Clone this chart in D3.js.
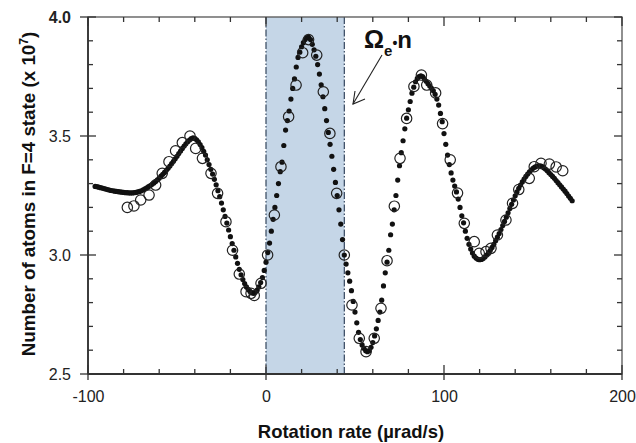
<!DOCTYPE html>
<html>
<head>
<meta charset="utf-8">
<script src="https://cdn.jsdelivr.net/npm/d3@7"></script>
<style>
  html, body { margin: 0; padding: 0; background: #fff; }
  svg { display: block; }
  text { font-family: Arial, "Liberation Sans", Helvetica, sans-serif; }
</style>
</head>
<body>
<svg id="chart" width="636" height="443"></svg>
<script>
// ---- Data ----
const xMajorTicks = [-100, 0, 100, 200];
const xTickLabels = ["-100", "0", "100", "200"];
const yMajorTicks = [2.5, 3.0, 3.5, 4.0];
const yTickLabels = ["2.5", "3.0", "3.5", "4.0"];
const bandRange = [0, 44];

// Theory curve (filled dots), x in µrad/s
const theoryX = d3.range(-96, 173, 1);
const theoryY = [
  3.288,3.287,3.285,3.283,3.281,3.279,3.277,3.275,3.273,3.271, // -96..-87
  3.270,3.268,3.267,3.266,3.265,3.264,3.263,3.262,3.262,3.261, // -86..-77
  3.261,3.261,3.262,3.263,3.265,3.267,3.270,3.274,3.278,3.282, // -76..-67
  3.287,3.292,3.297,3.303,3.309,3.316,3.323,3.331,3.339,3.347, // -66..-57
  3.356,3.365,3.374,3.384,3.394,3.404,3.415,3.426,3.437,3.448, // -56..-47
  3.458,3.467,3.476,3.483,3.489,3.492,3.490,3.484,3.475,3.464, // -46..-37
  3.451,3.436,3.420,3.400,3.380,3.360,3.340,3.318,3.295,3.270, // -36..-27
  3.245,3.218,3.190,3.162,3.134,3.105,3.077,3.048,3.020,2.992, // -26..-17
  2.965,2.940,2.917,2.897,2.880,2.866,2.855,2.847,2.841,2.839, // -16..-7
  2.843,2.852,2.866,2.884,2.905,2.935,2.970,3.010,3.050,3.100, // -6..3
  3.150,3.200,3.250,3.300,3.350,3.390,3.460,3.525,3.565,3.605, // 4..13
  3.655,3.700,3.740,3.790,3.830,3.852,3.875,3.892,3.905,3.913, // 14..23
  3.915,3.905,3.885,3.862,3.835,3.800,3.760,3.715,3.665,3.615, // 24..33
  3.565,3.515,3.465,3.415,3.360,3.305,3.250,3.190,3.130,3.065, // 34..43
  3.000,2.962,2.925,2.890,2.850,2.805,2.760,2.715,2.675,2.645, // 44..53
  2.622,2.608,2.598,2.594,2.598,2.612,2.632,2.660,2.690,2.725, // 54..63
  2.760,2.810,2.870,2.925,2.970,3.020,3.085,3.130,3.190,3.250, // 64..73
  3.315,3.375,3.430,3.480,3.530,3.575,3.610,3.645,3.680,3.705, // 74..83
  3.728,3.742,3.750,3.753,3.750,3.740,3.730,3.720,3.710,3.700, // 84..93
  3.690,3.675,3.655,3.630,3.595,3.560,3.510,3.465,3.420,3.380, // 94..103
  3.345,3.315,3.290,3.265,3.235,3.200,3.165,3.135,3.100,3.070, // 104..113
  3.045,3.025,3.008,2.995,2.987,2.982,2.980,2.981,2.985,2.992, // 114..123
  3.000,3.010,3.020,3.032,3.045,3.060,3.075,3.090,3.107,3.124, // 124..133
  3.141,3.159,3.177,3.195,3.213,3.231,3.249,3.265,3.280,3.294, // 134..143
  3.307,3.319,3.330,3.340,3.349,3.357,3.364,3.369,3.373,3.375, // 144..153
  3.375,3.372,3.367,3.361,3.354,3.346,3.338,3.330,3.322,3.313, // 154..163
  3.304,3.295,3.286,3.277,3.268,3.258,3.248,3.238,3.228        // 164..172
];

// Measured data (open circles)
const dataX = [-77.9,-74.2,-70.4,-65.7,-62.0,-58.3,-54.5,-50.8,-47.0,-42.7,
  -39.5,-35.7,-30.9,-27.2,-22.5,-18.8,-15.0,-11.2,-8.4,-6.6,
  -2.8,0.9,4.7,8.4,12.7,16.9,20.6,23.9,28.5,32.2,
  35.9,39.7,44.0,48.3,52.4,56.2,60.8,64.6,68.0,72.1,
  75.3,79.0,83.1,87.3,90.3,95.3,99.2,103.5,107.6,111.4,
  117.0,119.8,123.6,126.4,130.0,134.8,138.5,142.0,147.9,150.7,
  154.5,159.2,163.0,166.7];
const dataY = [3.200,3.206,3.231,3.252,3.294,3.343,3.392,3.438,3.472,3.500,
  3.448,3.406,3.343,3.259,3.140,3.020,2.920,2.846,2.839,2.830,
  2.881,3.000,3.168,3.371,3.581,3.714,3.850,3.905,3.840,3.686,
  3.511,3.259,3.000,2.790,2.650,2.594,2.650,2.776,2.976,3.205,
  3.406,3.574,3.708,3.756,3.714,3.681,3.552,3.400,3.260,3.133,
  3.056,3.007,3.014,3.028,3.084,3.147,3.217,3.275,3.322,3.371,
  3.385,3.382,3.370,3.354];

// ---- Layout ----
const svg = d3.select("#chart");
const L = 88, R = 622, T = 17, B = 374;
const x = d3.scaleLinear().domain([-100, 200]).range([L, R]);
const y = d3.scaleLinear().domain([2.5, 4.0]).range([B, T]);
const axisColor = "#333";

// Shaded band
svg.append("rect")
  .attr("x", x(bandRange[0])).attr("y", T)
  .attr("width", x(bandRange[1]) - x(bandRange[0]))
  .attr("height", B - T)
  .attr("fill", "#c5d6e7");
bandRange.forEach(v => {
  svg.append("line")
    .attr("x1", x(v)).attr("x2", x(v)).attr("y1", T).attr("y2", B)
    .attr("stroke", "#34465e").attr("stroke-width", 1.2)
    .attr("stroke-dasharray", "7,2,1.5,2");
});

// Theory dots
const theory = theoryX.map((d, i) => ({x: d, y: theoryY[i]}));
svg.append("g").selectAll("circle").data(theory).join("circle")
  .attr("cx", d => x(d.x)).attr("cy", d => y(d.y))
  .attr("r", 2.6).attr("fill", "#111");

// Data circles
const data = dataX.map((d, i) => ({x: d, y: dataY[i]}));
svg.append("g").selectAll("circle").data(data).join("circle")
  .attr("cx", d => x(d.x)).attr("cy", d => y(d.y))
  .attr("r", 5.2).attr("fill", "none")
  .attr("stroke", "#222").attr("stroke-width", 1.2);

// Frame
svg.append("rect").attr("x", L).attr("y", T).attr("width", R - L).attr("height", B - T)
  .attr("fill", "none").attr("stroke", "#555").attr("stroke-width", 1.3);
svg.append("line").attr("x1", L).attr("x2", R).attr("y1", B).attr("y2", B)
  .attr("stroke", axisColor).attr("stroke-width", 1.8);
svg.append("line").attr("x1", L).attr("x2", L).attr("y1", T).attr("y2", B)
  .attr("stroke", axisColor).attr("stroke-width", 1.8);

// Ticks
const tickG = svg.append("g").attr("stroke", axisColor).attr("stroke-width", 1.3);
const xMinor = d3.range(-100, 201, 20).filter(v => !xMajorTicks.includes(v));
const yMinor = d3.range(25, 41, 1).map(v => v / 10).filter(v => !yMajorTicks.includes(v));
xMinor.forEach(v => {
  tickG.append("line").attr("x1", x(v)).attr("x2", x(v)).attr("y1", B).attr("y2", B - 5);
  tickG.append("line").attr("x1", x(v)).attr("x2", x(v)).attr("y1", T).attr("y2", T + 5);
});
xMajorTicks.forEach(v => {
  tickG.append("line").attr("x1", x(v)).attr("x2", x(v)).attr("y1", B + 6).attr("y2", B - 9);
  tickG.append("line").attr("x1", x(v)).attr("x2", x(v)).attr("y1", T).attr("y2", T + 9);
});
yMinor.forEach(v => {
  tickG.append("line").attr("x1", L).attr("x2", L + 5).attr("y1", y(v)).attr("y2", y(v));
  tickG.append("line").attr("x1", R).attr("x2", R - 5).attr("y1", y(v)).attr("y2", y(v));
});
yMajorTicks.forEach(v => {
  tickG.append("line").attr("x1", L - 8).attr("x2", L + 8).attr("y1", y(v)).attr("y2", y(v));
  tickG.append("line").attr("x1", R).attr("x2", R - 8).attr("y1", y(v)).attr("y2", y(v));
});

// Axis labels through d3 axes (domain/ticks hidden)
const xAxis = svg.append("g").attr("transform", `translate(0,${B})`)
  .call(d3.axisBottom(x).tickValues(xMajorTicks).tickSize(0).tickPadding(17)
    .tickFormat((d, i) => xTickLabels[i]));
xAxis.select(".domain").remove();
xAxis.selectAll("text").attr("font-size", 16).attr("fill", "#222")
  .style("font-family", "Arial, 'Liberation Sans', sans-serif");

const yAxis = svg.append("g").attr("transform", `translate(${L},0)`)
  .call(d3.axisLeft(y).tickValues(yMajorTicks).tickSize(0).tickPadding(17)
    .tickFormat((d, i) => yTickLabels[i]));
yAxis.select(".domain").remove();
yAxis.selectAll("text").attr("font-size", 16).attr("fill", "#222")
  .style("font-family", "Arial, 'Liberation Sans', sans-serif")
  .attr("font-weight", d => d === 4.0 ? "bold" : "normal");

// Axis titles
svg.append("text").attr("x", 351).attr("y", 438).attr("text-anchor", "middle")
  .attr("font-size", 18.5).attr("font-weight", "bold").attr("fill", "#111")
  .text("Rotation rate (\u00B5rad/s)");

const yt = svg.append("text")
  .attr("transform", "translate(35,194) rotate(-90)")
  .attr("text-anchor", "middle").attr("font-size", 18.8)
  .attr("font-weight", "bold").attr("fill", "#111");
yt.append("tspan").text("Number of atoms in F=4 state (x 10");
yt.append("tspan").attr("font-size", 12).attr("dy", -7).text("7");
yt.append("tspan").attr("dy", 7).text(")");

// Annotation
const ann = svg.append("text").attr("x", 364).attr("y", 48)
  .attr("font-size", 25).attr("font-weight", "bold").attr("fill", "#111");
ann.append("tspan").text("\u03A9");
ann.append("tspan").attr("font-size", 15).attr("dy", 8).text("e");
ann.append("tspan").attr("font-size", 14).attr("dy", -8).text("\u2022");
ann.append("tspan").attr("font-size", 24).text("n");

const ag = svg.append("g").attr("stroke", "#222").attr("stroke-width", 1.1).attr("fill", "none");
ag.append("line").attr("x1", 382).attr("y1", 55).attr("x2", 353).attr("y2", 104);
ag.append("polyline").attr("points", "355,91 353,104 365,99");
</script>
</body>
</html>
